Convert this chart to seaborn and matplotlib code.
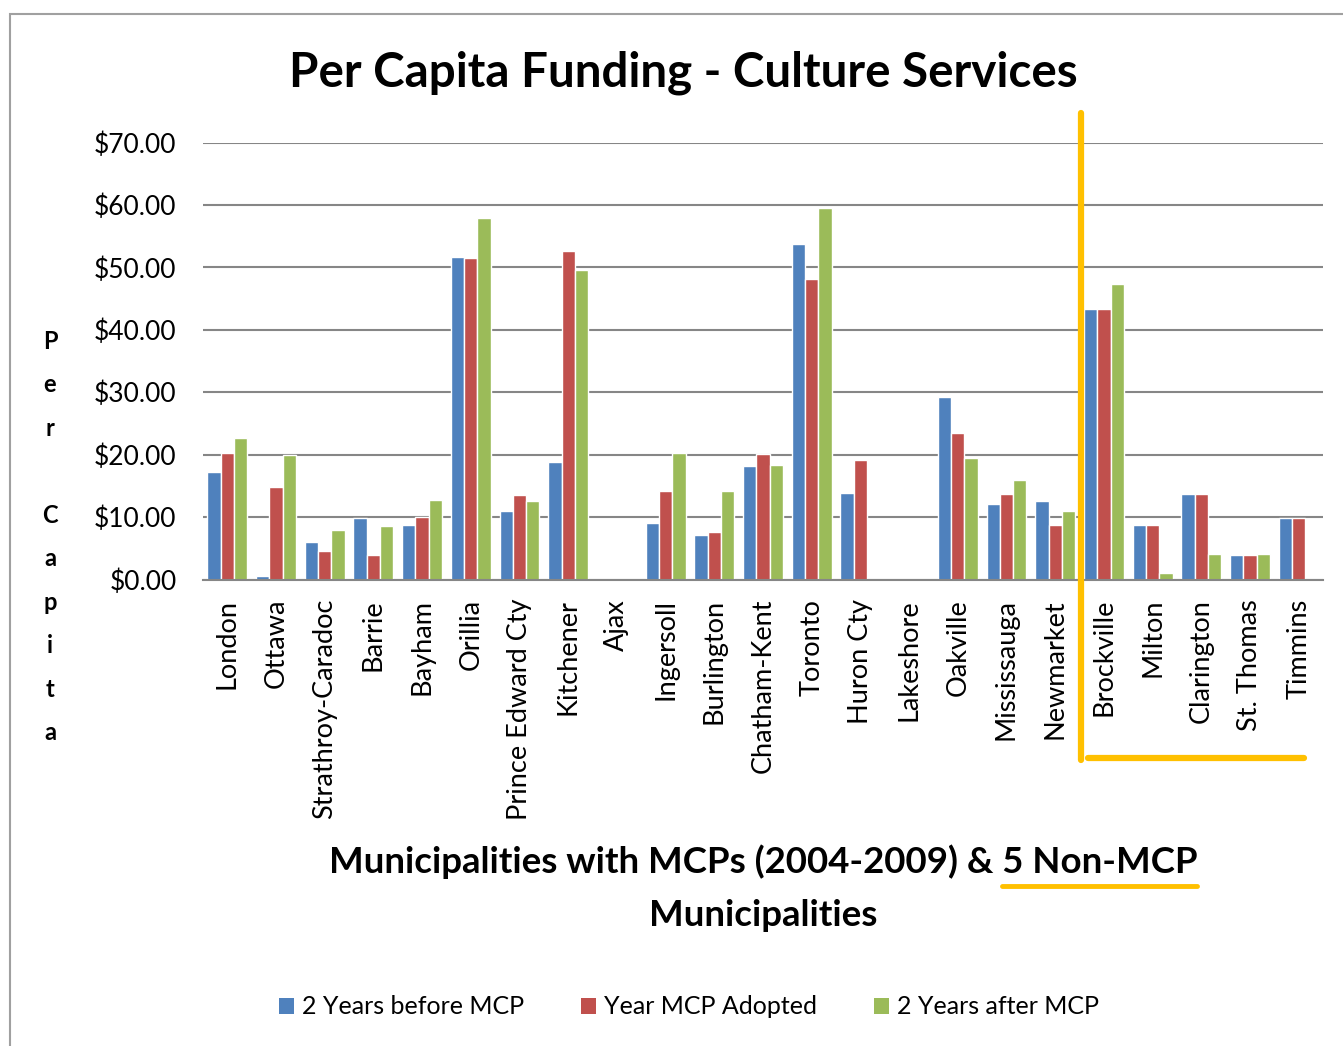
import numpy as np
import pandas as pd
import matplotlib
matplotlib.use("Agg")
import matplotlib.pyplot as plt
from matplotlib.lines import Line2D
from matplotlib.patches import Patch, Rectangle
import seaborn as sns

# Per capita culture-services funding, in dollars
municipalities = [
    "London", "Ottawa", "Strathroy-Caradoc", "Barrie", "Bayham", "Orillia",
    "Prince Edward Cty", "Kitchener", "Ajax", "Ingersoll", "Burlington",
    "Chatham-Kent", "Toronto", "Huron Cty", "Lakeshore", "Oakville",
    "Mississauga", "Newmarket", "Brockville", "Milton", "Clarington",
    "St. Thomas", "Timmins",
]
before_mcp = [17.2, 0.6, 6.0, 9.8, 8.8, 51.7, 10.9, 18.8, np.nan, 9.1, 7.1,
              18.2, 53.7, 13.9, np.nan, 29.3, 12.1, 12.5, 43.3, 8.8, 13.7,
              3.9, 9.8]
mcp_adopted = [20.2, 14.8, 4.6, 3.9, 10.0, 51.5, 13.5, 52.6, np.nan, 14.2, 7.6,
               20.1, 48.2, 19.2, np.nan, 23.4, 13.7, 8.7, 43.3, 8.8, 13.7,
               3.9, 9.8]
after_mcp = [22.6, 20.0, 7.9, 8.5, 12.7, 57.9, 12.5, 49.5, np.nan, 20.2, 14.2,
             18.4, 59.5, np.nan, np.nan, 19.5, 16.0, 10.9, 47.4, 1.0, 4.1,
             4.1, np.nan]
series_names = ["2 Years before MCP", "Year MCP Adopted", "2 Years after MCP"]
series_colors = ["#4F81BD", "#C0504D", "#9BBB59"]
y_ticks = [0, 10, 20, 30, 40, 50, 60, 70]

df = pd.DataFrame({
    "Municipality": municipalities * 3,
    "Period": np.repeat(series_names, len(municipalities)),
    "Funding": before_mcp + mcp_adopted + after_mcp,
})

sns.set_theme(style="white")
plt.rcParams["font.family"] = ["Lato", "DejaVu Sans"]
plt.rcParams["text.color"] = "black"
plt.rcParams["xtick.color"] = "black"
plt.rcParams["ytick.color"] = "black"

W, H = 1343, 1046
fig = plt.figure(figsize=(W / 100, H / 100), dpi=100)

def fx(px):
    return px / W

def fy(py):
    return 1 - py / H

ax = fig.add_axes([fx(203), fy(579.5), fx(1323) - fx(203), fy(142.5) - fy(579.5)])

sns.barplot(
    data=df, x="Municipality", y="Funding", hue="Period",
    order=municipalities, hue_order=series_names, palette=series_colors,
    errorbar=None, width=0.82, edgecolor="white", linewidth=1.0,
    saturation=1, ax=ax, legend=False,
)

ax.set_ylim(0, 70)
ax.set_xlim(-0.5, len(municipalities) - 0.5)
ax.set_yticks(y_ticks)
ax.set_yticklabels([f"${v:.2f}" for v in y_ticks], fontsize=19)
ax.yaxis.grid(True, color="#868686", linewidth=1.5)
ax.set_axisbelow(True)
for side in ["left", "right", "top"]:
    ax.spines[side].set_visible(False)
ax.spines["bottom"].set_color("#868686")
ax.spines["bottom"].set_linewidth(1.5)
ax.tick_params(axis="y", length=0, pad=19)
ax.tick_params(axis="x", length=0, pad=14)
plt.setp(ax.get_xticklabels(), rotation=90, fontsize=19.5, ha="center", va="top")
ax.set_xlabel("")
ax.set_ylabel("")

# Title
fig.text(fx(683), fy(73), "Per Capita Funding - Culture Services",
         ha="center", va="center", fontsize=34.2, fontweight="bold")

# Vertically stacked y-axis caption
fig.text(fx(50), fy(537), "P\ne\nr\n\nC\na\np\ni\nt\na", ha="center",
         va="center", fontsize=17, fontweight="bold", linespacing=2.08)

# Two-line x-axis caption
cap_size = 26.4
line1 = fig.text(fx(763), fy(862), "Municipalities with MCPs (2004-2009) & 5 Non-MCP",
                 ha="center", va="center", fontsize=cap_size, fontweight="bold")
fig.text(fx(763), fy(916), "Municipalities", ha="center", va="center",
         fontsize=cap_size, fontweight="bold")

orange = "#FFC000"
fig.canvas.draw()
renderer = fig.canvas.get_renderer()
bb = line1.get_window_extent(renderer)
probe = fig.text(0, 0, "5 Non-MCP", fontsize=cap_size, fontweight="bold")
sw = probe.get_window_extent(renderer).width
probe.remove()
fig.add_artist(Line2D([(bb.x1 - sw) / W, bb.x1 / W], [fy(886), fy(886)],
                      transform=fig.transFigure, color=orange, lw=3.5,
                      solid_capstyle="round"))

# Bracket around the non-MCP municipalities
fig.add_artist(Line2D([fx(1081), fx(1081)], [fy(113), fy(760)],
                      transform=fig.transFigure, color=orange, lw=4.5,
                      solid_capstyle="round"))
fig.add_artist(Line2D([fx(1088), fx(1304)], [fy(758), fy(758)],
                      transform=fig.transFigure, color=orange, lw=4.5,
                      solid_capstyle="round"))

# Legend
handles = [Patch(facecolor=c, edgecolor="none") for c in series_colors]
fig.legend(handles, series_names, loc="center", bbox_to_anchor=(fx(689), fy(1007)),
           ncol=3, frameon=False, fontsize=18, handlelength=0.6,
           handleheight=0.6, handletextpad=0.3, columnspacing=2.3)

# Outer chart frame
fig.add_artist(Rectangle((fx(10), -0.1), 1.2, fy(14) + 0.1,
                         transform=fig.transFigure, fill=False,
                         edgecolor="#A0A0A0", linewidth=1.5))

fig.savefig("out.png", dpi=100)
